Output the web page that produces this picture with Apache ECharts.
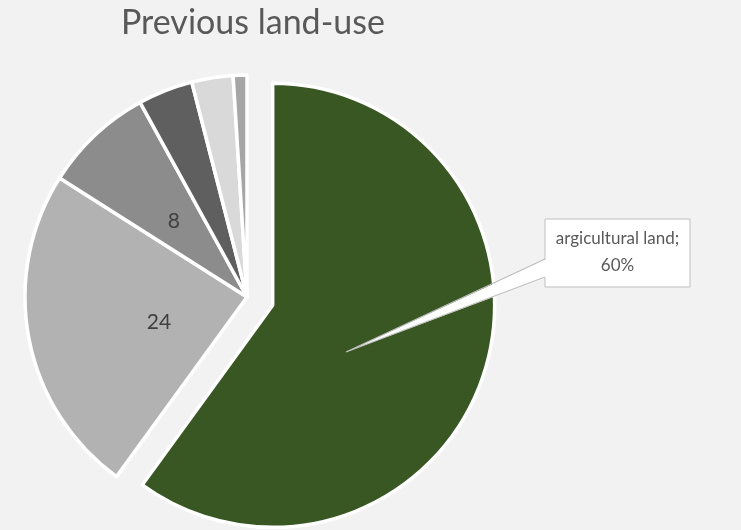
<!DOCTYPE html>
<html>
<head>
<meta charset="utf-8">
<script src="https://cdn.jsdelivr.net/npm/echarts@6/dist/echarts.min.js"></script>
<style>
html,body{margin:0;padding:0;background:#f2f2f2;}
#c{width:741px;height:530px;}
</style>
</head>
<body>
<div id="c"></div>
<script>
var categories = ['argicultural land', 'category 2', 'category 3', 'category 4', 'category 5', 'category 6'];
var values = [60, 24, 8, 4, 3, 1];
var colors = ['#385723', '#b2b2b2', '#8c8c8c', '#5f5f5f', '#d9d9d9', '#a6a6a6'];
var showValue = [false, true, true, false, false, false];
var labelOffsets = [[0, 0], [24, 4], [5, 7], [0, 0], [0, 0], [0, 0]];

var chart = echarts.init(document.getElementById('c'));
var data = categories.map(function (name, i) {
  return {
    name: name,
    value: values[i],
    selected: i === 0,
    itemStyle: { color: colors[i] },
    label: {
      show: showValue[i],
      position: 'inside',
      formatter: '{c}',
      offset: labelOffsets[i],
      fontSize: 21,
      color: '#404040',
      fontFamily: 'Lato'
    },
    labelLine: { show: false }
  };
});

// callout box for the first category
var calloutText = categories[0] + ';\n' + values[0] + '%';
var box = { x: 545, y: 219, w: 145, h: 68 };
var tip = [346, 352];
var base = [259, 277];

chart.setOption({
  backgroundColor: '#f2f2f2',
  animation: false,
  title: {
    text: 'Previous land-use',
    left: 116,
    top: 1,
    textStyle: { fontFamily: 'Lato', fontWeight: 'normal', fontSize: 34, color: '#595959' }
  },
  series: [{
    type: 'pie',
    center: [247, 297],
    radius: 222,
    startAngle: 90,
    clockwise: true,
    selectedMode: 'single',
    selectedOffset: 27,
    avoidLabelOverlap: false,
    itemStyle: { borderColor: '#ffffff', borderWidth: 3.5 },
    emphasis: { disabled: true },
    data: data
  }],
  graphic: [
    {
      type: 'rect', z: 100,
      shape: { x: box.x, y: box.y, width: box.w, height: box.h },
      style: { fill: '#ffffff', stroke: '#bfbfbf', lineWidth: 1 }
    },
    {
      type: 'polygon', z: 101,
      shape: { points: [[box.x + 2, base[0]], tip, [box.x + 2, base[1]]] },
      style: { fill: '#ffffff', stroke: null }
    },
    {
      type: 'polyline', z: 102,
      shape: { points: [[box.x, base[0]], tip, [box.x, base[1]]] },
      style: { fill: null, stroke: '#bfbfbf', lineWidth: 1.2 }
    },
    {
      type: 'text', z: 103,
      x: box.x + box.w / 2, y: box.y + box.h / 2 - 1,
      style: {
        text: calloutText, align: 'center', verticalAlign: 'middle',
        fontSize: 17, lineHeight: 27, fill: '#595959', fontFamily: 'Lato'
      }
    }
  ]
});
</script>
</body>
</html>
